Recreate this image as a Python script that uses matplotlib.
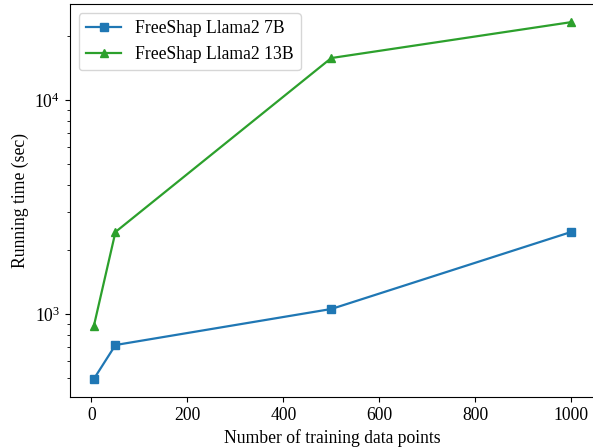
import matplotlib
matplotlib.use("Agg")
import matplotlib.pyplot as plt

plt.rcParams['font.family'] = ['Liberation Serif', 'DejaVu Serif']
plt.rcParams['mathtext.fontset'] = 'stix'
plt.rcParams['font.size'] = 12.7

x_points = [5, 50, 500, 1000]
llama7b = [497, 716, 1055, 2416]
llama13b = [879, 2416, 15700, 23100]

fig = plt.figure(figsize=(5.93, 4.48), dpi=100)
ax = fig.add_axes([70/593, 0.1143, 525/593, 0.8761])
ax.plot(x_points, llama7b, marker='s', color='#1f77b4', lw=1.6, ms=6.4,
        label='FreeShap Llama2 7B')
ax.plot(x_points, llama13b, marker='^', color='#2ca02c', lw=1.6, ms=6.4,
        label='FreeShap Llama2 13B')
ax.set_yscale('log')
ax.set_xlabel('Number of training data points')
ax.set_ylabel('Running time (sec)')
ax.legend(loc='upper left')
fig.savefig('out.png', dpi=100)
